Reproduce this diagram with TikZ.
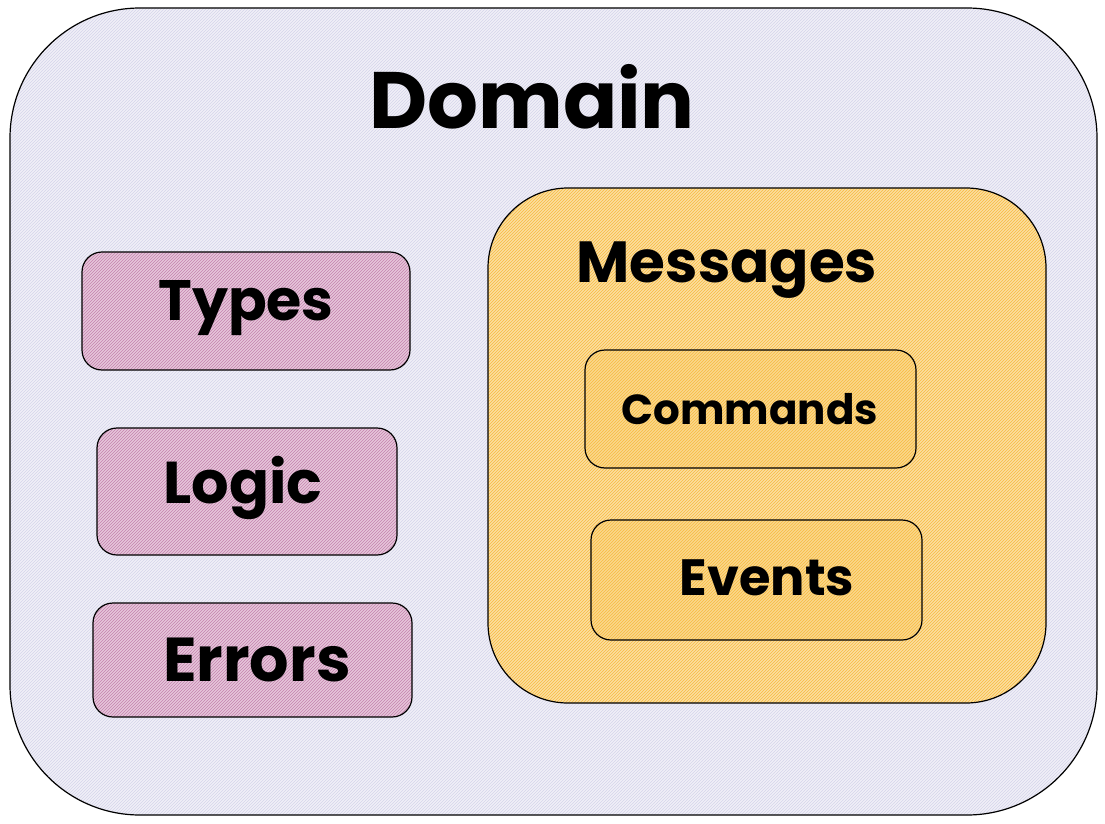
\documentclass[tikz,border=0pt]{standalone}
\usepackage{fontspec}
\setmainfont{Poppins}
\usetikzlibrary{patterns}
\definecolor{lav}{HTML}{F1F0F8}
\definecolor{lavline}{HTML}{D4D4EA}
\definecolor{pinkf}{HTML}{E6C6DA}
\definecolor{pinkline}{HTML}{C482AE}
\definecolor{orf}{HTML}{FCDFA0}
\definecolor{orline}{HTML}{F7BA40}
\tikzset{
  sketch/.style={draw=black, line width=1.2pt, inner sep=0pt},
  lavbox/.style={sketch, preaction={fill=lav}, pattern=north east lines, pattern color=lavline, rounded corners=130pt},
  pinkbox/.style={sketch, preaction={fill=pinkf}, pattern=north east lines, pattern color=pinkline, rounded corners=20pt},
  orbig/.style={sketch, preaction={fill=orf}, pattern=north east lines, pattern color=orline, rounded corners=80pt},
  orbox/.style={sketch, preaction={fill=orf!80!orline}, pattern=north east lines, pattern color=orline, rounded corners=20pt},
  lbl/.style={inner sep=0pt, font=\bfseries}
}
\begin{document}
\begin{tikzpicture}[x=1pt,y=-1pt]
\useasboundingbox (0,0) rectangle (1105,824);
\node[lavbox, minimum width=1087pt, minimum height=807pt] (domain) at (553.5,411.5) {};
\node[lbl, font=\bfseries\fontsize{80}{84}\selectfont] (domaint) at (532,97) {Domain};
\node[pinkbox, minimum width=328pt, minimum height=118pt] (types) at (246,311) {};
\node[lbl, font=\bfseries\fontsize{57}{60}\selectfont] (typest) at (246,308) {Types};
\node[pinkbox, minimum width=300pt, minimum height=127pt] (logic) at (247,491.5) {};
\node[lbl, font=\bfseries\fontsize{59}{62}\selectfont] (logict) at (243,488) {Logic};
\node[pinkbox, minimum width=319pt, minimum height=114pt] (errors) at (252.5,660) {};
\node[lbl, font=\bfseries\fontsize{62}{66}\selectfont] (errorst) at (257,660) {Errors};
\node[orbig, minimum width=558pt, minimum height=515pt] (messages) at (767,445.5) {};
\node[lbl, font=\bfseries\fontsize{58}{62}\selectfont] (messagest) at (727,270) {Messages};
\node[orbox, minimum width=331pt, minimum height=118pt] (commands) at (750.5,409) {};
\node[lbl, font=\bfseries\fontsize{42}{46}\selectfont] (commandst) at (750,409) {Commands};
\node[orbox, minimum width=331pt, minimum height=120pt] (events) at (756.5,580) {};
\node[lbl, font=\bfseries\fontsize{51}{54}\selectfont] (eventst) at (767,578) {Events};
\end{tikzpicture}
\end{document}
